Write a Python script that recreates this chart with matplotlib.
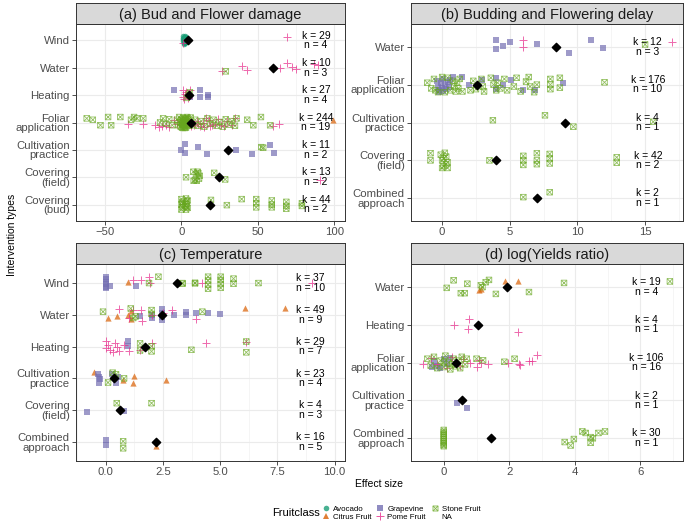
import matplotlib
matplotlib.use("Agg")
import matplotlib.pyplot as plt
from matplotlib.path import Path
from matplotlib.lines import Line2D
from matplotlib.ticker import MultipleLocator

plt.rcParams["font.family"] = ["Liberation Sans", "DejaVu Sans"]

# ---------- data: (category index, effect size, vertical jitter) ----------
cats_a = ["Wind", "Water", "Heating", "Foliar\napplication", "Cultivation\npractice",
          "Covering\n(field)", "Covering\n(bud)"]
a_avocado = [(0, 1.0, -0.15), (0, 1.5, -0.12), (0, 2.0, -0.1), (0, 2.5, -0.08), (0, 1.2, -0.05),
             (0, 1.8, -0.03), (0, 2.6, 0.0), (0, 3.0, 0.02), (0, 1.4, 0.04), (0, 2.2, 0.06),
             (0, 2.8, -0.14), (0, 1.6, 0.08), (0, 2.4, 0.1), (0, 3.2, -0.06), (0, 0.8, -0.1),
             (0, 1.9, 0.12), (0, 2.1, -0.17), (0, 2.9, 0.05), (0, 1.1, 0.02), (0, 2.3, -0.01)]
a_citrus = [(3, 99.4, -0.1)]
a_grape = [(2, -5.2, -0.18), (2, 11.9, -0.18), (2, 11.9, 0.07), (2, 17.1, -0.02), (2, 17.1, 0.05),
           (2, 5.6, 0.08),
           (4, -0.2, 0.0), (4, 2.6, -0.2), (4, 2.6, 0.11), (4, 11.0, -0.1), (4, 16.4, 0.15),
           (4, 35.5, 0.0), (4, 46.3, 0.15), (4, 58.2, -0.16), (4, 60.4, 0.12)]
a_pome = [(0, 1.2, 0.1), (0, 69.0, -0.11),
          (1, 26.5, 0.13), (1, 39.4, -0.07), (1, 43.0, 0.08), (1, 64.7, 0.0), (1, 69.0, -0.17),
          (1, 72.3, -0.03), (1, 75.0, 0.03), (1, 86.5, -0.13), (1, 89.6, -0.1),
          (2, 0.9, -0.2), (2, 0.9, 0.05), (2, 5.6, -0.2), (2, 2.0, -0.05), (2, 4.0, 0.1),
          (2, 1.5, 0.15), (2, 3.0, -0.12),
          (3, -35, 0.05), (3, -25, 0.05), (3, -17, 0.1), (3, -15, 0.15), (3, -13, 0.12),
          (3, -10, 0.08), (3, -8, 0.15), (3, -5, -0.1), (3, -3, 0.05), (3, 8, 0.1), (3, 10, -0.05),
          (3, 12, 0.12), (3, 14, 0.0), (3, 15, 0.15), (3, 18, -0.08), (3, 20, 0.1), (3, 22, 0.05),
          (3, 24, -0.12), (3, 26, 0.08), (3, 28, 0.13), (3, 30, -0.05), (3, 33, 0.1),
          (3, 35, -0.15), (3, 60, 0.12), (3, 64, 0.05), (3, 6, 0.14), (3, 4, -0.12),
          (3, 16, -0.15), (3, 19, 0.14), (3, 11, 0.04),
          (5, 90.5, 0.1)]
a_stone = [(1, 29.0, 0.13),
           (2, 4.7, -0.02), (2, 3.5, 0.1), (2, 5.5, -0.1),
           (3, -62, -0.15), (3, -58, -0.1), (3, -53, 0.1), (3, -48, -0.2), (3, -46, 0.1),
           (3, -40, -0.2), (3, -33, -0.1), (3, -31, -0.2), (3, -29, -0.15), (3, -25, -0.15),
           (3, -1.5, -0.2), (3, -0.5, 0.15), (3, 0, -0.1), (3, 0.5, 0.05), (3, 1, -0.18),
           (3, 1, 0.2), (3, 1.5, 0.1), (3, 2, -0.05), (3, 2, 0.15), (3, 2.5, -0.15), (3, 3, 0.0),
           (3, 3, 0.18), (3, 3.5, -0.2), (3, 4, 0.08), (3, 4.5, -0.1), (3, 5, 0.12),
           (3, 0.2, -0.02), (3, 0.8, 0.1), (3, 1.2, -0.08), (3, 1.8, 0.03), (3, 2.2, 0.2),
           (3, 2.8, -0.12), (3, 3.2, 0.1), (3, 4.2, -0.17), (3, 0.3, 0.18), (3, 1.6, -0.14),
           (3, -1, 0.0), (3, -2, 0.1), (3, -3, -0.1), (3, -6, 0.1), (3, -8, -0.12),
           (3, -10, 0.05), (3, -12, -0.15), (3, -14, 0.0), (3, 6, -0.18), (3, 7, 0.1),
           (3, 9, -0.1), (3, 11, 0.12), (3, 13, -0.05), (3, 15, 0.15), (3, 17, -0.15),
           (3, 19, 0.05), (3, 21, -0.1), (3, 23, 0.12), (3, 25, -0.02), (3, 27, 0.15),
           (3, 29, -0.12), (3, 31, 0.08), (3, 33, -0.05), (3, 35, 0.12), (3, 36, -0.15),
           (3, 43, -0.1), (3, 47, 0.1), (3, 52, -0.2), (3, 58, 0.1),
           (4, 52.2, -0.1), (4, 53.5, -0.08),
           (5, 3.0, 0.0), (5, 7.8, -0.2), (5, 8.9, 0.1), (5, 9.5, -0.12), (5, 11.0, -0.15),
           (5, 11.5, 0.05), (5, 8.0, 0.13), (5, 10.0, 0.13), (5, 12.0, -0.05), (5, 21.4, -0.16),
           (5, 28.6, 0.08), (5, 10.5, -0.2),
           (6, 0.0, -0.2), (6, 0.5, -0.1), (6, 0.0, 0.0), (6, 0.5, 0.1), (6, 0.0, 0.18),
           (6, 3.0, -0.22), (6, 3.5, -0.12), (6, 3.0, -0.02), (6, 3.5, 0.08), (6, 3.0, 0.18),
           (6, 4.0, 0.12), (6, 2.5, 0.05), (6, 1.0, -0.05), (6, 4.0, -0.15),
           (6, 19.3, -0.17), (6, 29.7, 0.02), (6, 39.4, -0.2), (6, 48.9, -0.2), (6, 48.9, -0.05),
           (6, 48.9, 0.1), (6, 59.1, -0.15), (6, 59.1, 0.0), (6, 59.1, 0.1), (6, 68.6, -0.1),
           (6, 68.6, 0.05), (6, 68.6, 0.15), (6, 78.8, -0.05), (6, 78.8, 0.05)]
mean_a = [4.1, 59.7, 5.0, 6.1, 30.5, 24.7, 18.4]
k_a = [29, 10, 27, 244, 11, 13, 44]
n_a = [4, 3, 4, 19, 2, 2, 2]

cats_b = ["Water", "Foliar\napplication", "Cultivation\npractice", "Covering\n(field)",
          "Combined\napproach"]
b_grape = [(0, 4.0, -0.18), (0, 4.0, 0.07), (0, 4.5, -0.02), (0, 5.0, -0.13), (0, 7.0, -0.06),
           (0, 9.4, 0.16), (0, 11.0, -0.17), (0, 11.9, 0.04),
           (1, -0.4, -0.1), (1, -0.3, 0.05), (1, -0.2, 0.15), (1, -0.1, -0.05), (1, 0.0, 0.1),
           (1, 0.1, -0.15), (1, 0.2, 0.0), (1, 0.3, 0.12), (1, 0.4, -0.08), (1, 0.5, 0.06),
           (1, 0.6, -0.12), (1, -0.2, 0.2), (1, 0.1, 0.18), (1, 0.8, -0.2),
           (1, 1.5, -0.2), (1, 2.0, 0.0), (1, 2.95, -0.12), (1, 4.0, -0.18), (1, 4.0, 0.12),
           (1, 4.5, 0.0), (1, 5.1, -0.12), (1, 6.0, 0.15), (1, 6.9, 0.15), (1, 8.9, -0.03)]
b_pome = [(0, 6.0, -0.19), (0, 6.0, 0.0), (0, 17.0, -0.13)]
b_stone = [(0, 15.0, -0.06),
           (1, -1.1, -0.05), (1, -0.8, 0.1), (1, -0.6, -0.15), (1, -0.5, 0.15), (1, -0.3, 0.2),
           (1, 0.0, -0.2), (1, 0.2, 0.2), (1, 0.4, -0.18), (1, 0.6, 0.15), (1, 0.8, -0.1),
           (1, 0.9, 0.05), (1, 1.0, 0.18), (1, 1.1, -0.05), (1, 1.2, 0.1), (1, 1.5, 0.18),
           (1, 1.3, -0.15), (1, 2.1, 0.15), (1, 2.3, -0.1), (1, 2.5, 0.12), (1, 2.9, -0.15),
           (1, 3.0, 0.05), (1, 3.1, 0.18), (1, 3.6, -0.18), (1, 3.8, 0.0), (1, 4.0, 0.15),
           (1, 4.1, -0.05), (1, 4.3, 0.1), (1, 4.6, -0.15), (1, 4.8, 0.15), (1, 5.3, 0.05),
           (1, 5.5, -0.18), (1, 5.8, 0.18), (1, 6.2, -0.08), (1, 6.5, 0.05), (1, 6.8, 0.2),
           (1, 6.4, -0.2), (1, 7.0, 0.0), (1, 8.0, -0.15), (1, 8.0, 0.0), (1, 8.0, 0.12),
           (1, 8.7, -0.18), (1, 8.7, 0.08), (1, 12.0, -0.06),
           (2, 3.75, -0.06), (2, 7.6, -0.19), (2, 9.7, 0.11), (2, 15.6, -0.02),
           (3, -0.86, -0.19), (3, -0.86, 0.0), (3, -0.1, -0.15), (3, 0.0, 0.0), (3, 0.1, 0.15),
           (3, 0.2, -0.2), (3, 0.3, 0.1), (3, 0.4, 0.2), (3, 0.1, -0.05), (3, 0.3, -0.1),
           (3, 0.0, 0.2), (3, 0.4, 0.05), (3, 3.5, 0.0), (3, 6.0, -0.12), (3, 6.0, 0.0),
           (3, 6.0, 0.12), (3, 7.0, -0.19), (3, 7.0, 0.0), (3, 7.0, 0.1), (3, 7.95, -0.17),
           (3, 7.95, -0.05), (3, 7.95, 0.08), (3, 12.9, -0.08), (3, 12.9, 0.06),
           (4, 6.0, -0.03), (4, 7.95, -0.16)]
mean_b = [8.4, 2.6, 9.1, 4.0, 7.0]
k_b = [12, 176, 4, 42, 2]
n_b = [3, 10, 1, 2, 1]

cats_c = ["Wind", "Water", "Heating", "Cultivation\npractice", "Covering\n(field)",
          "Combined\napproach"]
c_citrus = [(0, 0.99, -0.04),
            (1, 0.1, 0.1), (1, 0.48, 0.03), (1, 0.95, 0.0), (1, 1.09, -0.12), (1, 1.09, 0.14),
            (1, 6.08, -0.2), (1, 7.82, -0.2),
            (3, -0.51, -0.19), (3, 1.24, -0.08), (3, 1.2, 0.15), (3, 2.62, 0.04), (3, 0.77, 0.04),
            (5, 2.18, 0.13)]
c_grape = [(0, 0.0, -0.2), (0, 0.0, -0.12), (0, 0.0, -0.04), (0, 0.0, 0.04), (0, 0.0, 0.12),
           (0, 0.0, 0.17), (0, 0.19, 0.08), (0, 1.31, 0.1),
           (1, 1.5, 0.05), (1, 2.0, 0.0), (1, 2.0, 0.1), (1, 2.47, -0.17), (1, 2.47, -0.05),
           (1, 2.47, 0.06), (1, 2.47, 0.15), (1, 2.98, 0.0), (1, 3.49, -0.1), (1, 3.49, 0.0),
           (1, 3.96, -0.06), (1, 4.47, -0.06), (1, 4.99, -0.03),
           (2, 0.98, -0.17), (2, 0.98, -0.02),
           (3, -0.36, -0.14), (3, -0.3, -0.03), (3, -0.3, 0.15), (3, -0.25, 0.02), (3, 0.29, -0.14),
           (3, 0.44, 0.13), (3, 0.55, -0.03),
           (4, -0.8, 0.06), (4, 0.8, 0.02),
           (5, 0.0, -0.06), (5, 0.0, 0.1)]
c_pome = [(0, 1.19, -0.11), (0, 1.53, -0.09), (0, 1.89, -0.18), (0, 1.95, -0.01), (0, 4.19, 0.01),
          (0, 9.0, 0.01),
          (1, 0.58, -0.18), (1, 1.2, -0.16), (1, 1.53, -0.16), (1, 1.6, 0.18), (1, 2.0, 0.0),
          (1, 2.5, -0.05), (1, 2.9, -0.14), (1, 3.93, 0.14), (1, 1.0, 0.1),
          (2, 0.0, -0.18), (2, 0.1, -0.05), (2, 0.2, 0.1), (2, 0.0, 0.05), (2, 0.4, -0.12),
          (2, 0.5, 0.0), (2, 0.6, 0.15), (2, 0.8, -0.05), (2, 0.3, 0.18), (2, 1.0, 0.15),
          (2, 1.5, 0.1), (2, 2.0, -0.12), (2, 4.37, -0.11), (2, 6.14, -0.16)]
c_stone = [(0, 1.89, 0.0), (0, 2.3, -0.2), (0, 3.35, 0.0), (0, 3.35, 0.02), (0, 3.9, -0.01),
           (0, 3.9, 0.01), (0, 4.47, -0.2), (0, 4.47, -0.08), (0, 4.47, 0.05), (0, 4.47, 0.18),
           (0, 5.02, -0.2), (0, 5.02, -0.1), (0, 5.02, 0.03), (0, 5.02, 0.15), (0, 5.58, -0.14),
           (0, 5.58, 0.02), (0, 6.67, 0.0),
           (1, -0.12, -0.1), (1, 1.09, -0.2), (1, 1.2, 0.1), (1, 1.3, 0.05), (1, 2.0, -0.15),
           (1, 2.0, -0.03), (1, 4.22, -0.1),
           (2, 1.5, -0.1), (2, 1.5, 0.12), (2, 2.0, -0.01), (2, 2.0, 0.15), (2, 3.74, 0.1),
           (2, 6.14, -0.16), (2, 6.14, 0.18),
           (3, 0.1, 0.13), (3, 0.3, -0.18), (3, 0.8, 0.0), (3, 0.45, -0.13),
           (4, 0.48, -0.22), (4, 2.0, -0.22),
           (5, 0.76, -0.02), (5, 0.76, 0.2)]
mean_c = [3.1, 2.45, 1.72, 0.36, 0.61, 2.18]
k_c = [37, 49, 29, 23, 4, 16]
n_c = [10, 9, 7, 4, 3, 5]

cats_d = ["Water", "Heating", "Foliar\napplication", "Cultivation\npractice",
          "Combined\napproach"]
d_citrus = [(0, 1.08, 0.08), (0, 1.13, 0.06), (0, 1.86, -0.15), (0, 2.27, -0.15)]
d_grape = [(2, -0.3, -0.05), (2, -0.2, 0.1), (2, -0.1, 0.15), (2, 0.0, -0.1), (2, 0.1, 0.05),
           (2, -0.35, 0.12), (2, 0.2, -0.12),
           (3, 0.4, 0.08), (3, 0.7, 0.19)]
d_pome = [(1, 0.3, 0.02), (1, 0.77, -0.16), (1, 0.75, 0.12), (1, 2.25, 0.19),
          (2, -0.63, 0.03), (2, -0.4, -0.12), (2, -0.2, 0.05), (2, 0.1, 0.15), (2, 0.25, -0.15),
          (2, 0.5, 0.1), (2, 0.8, 0.0), (2, 1.08, -0.06), (2, 1.15, 0.02), (2, 1.35, 0.03),
          (2, 1.0, 0.12), (2, 1.95, 0.0), (2, 2.3, 0.03), (2, 2.33, 0.07), (2, 2.6, -0.04),
          (2, 2.68, -0.04), (2, 2.86, -0.19), (2, 0.6, -0.1)]
d_stone = [(0, 0.09, 0.03), (0, 0.3, -0.17), (0, 0.52, 0.17), (0, 0.64, 0.17), (0, 0.72, -0.08),
           (0, 1.13, -0.04), (0, 1.18, 0.01), (0, 1.28, -0.12), (0, 1.38, -0.18), (0, 1.59, 0.19),
           (0, 2.6, 0.14), (0, 3.67, -0.1), (0, 6.9, -0.14),
           (2, -0.5, -0.1), (2, -0.4, 0.08), (2, -0.3, -0.15), (2, -0.2, 0.15), (2, -0.1, -0.05),
           (2, 0.0, 0.12), (2, 0.05, -0.18), (2, 0.15, 0.0), (2, 0.2, 0.18), (2, 0.3, -0.1),
           (2, 0.35, 0.1), (2, 0.45, -0.05), (2, 0.5, 0.15), (2, 0.55, -0.15), (2, 0.65, 0.05),
           (2, 0.7, -0.1), (2, 0.0, 0.0), (2, 0.25, 0.05), (2, 1.0, -0.1), (2, 1.2, -0.06),
           (2, 1.85, -0.02), (2, 2.16, -0.1),
           (4, 0.0, -0.22), (4, 0.0, -0.17), (4, 0.0, -0.12), (4, 0.0, -0.07), (4, 0.0, -0.02),
           (4, 0.0, 0.03), (4, 0.0, 0.08), (4, 0.0, 0.13), (4, 0.0, 0.18), (4, 0.0, 0.21),
           (4, 3.69, 0.1), (4, 3.87, 0.19), (4, 3.97, 0.02), (4, 4.23, -0.18), (4, 4.33, -0.14),
           (4, 4.48, -0.03), (4, 4.48, 0.12), (4, 4.55, 0.0), (4, 4.72, -0.14), (4, 4.92, -0.18)]
mean_d = [1.94, 1.03, 0.37, 0.55, 1.43]
k_d = [19, 4, 106, 2, 30]
n_d = [4, 1, 16, 1, 1]

# ---------- styles ----------
box_x = Path([(-1, -1), (1, -1), (1, 1), (-1, 1), (-1, -1), (-1, -1), (1, 1), (-1, 1), (1, -1)],
             [Path.MOVETO, Path.LINETO, Path.LINETO, Path.LINETO, Path.CLOSEPOLY,
              Path.MOVETO, Path.LINETO, Path.MOVETO, Path.LINETO])
style = {
    "Avocado": dict(marker="o", color="#1B9E77", s=16, filled=True),
    "Citrus Fruit": dict(marker="^", color="#D95F02", s=20, filled=True),
    "Grapevine": dict(marker="s", color="#7570B3", s=14, filled=True),
    "Pome Fruit": dict(marker="+", color="#E7298A", s=36, filled=True),
    "Stone Fruit": dict(marker=box_x, color="#66A61E", s=16, filled=False),
}


def scatter_group(ax, pts, name):
    if not pts:
        return
    st = style[name]
    xs = [p[1] for p in pts]
    ys = [p[0] + p[2] for p in pts]
    if st["filled"]:
        ax.scatter(xs, ys, marker=st["marker"], s=st["s"], c=st["color"], alpha=0.7,
                   linewidths=0.7 if st["marker"] == "+" else 0, zorder=3)
    else:
        ax.scatter(xs, ys, marker=st["marker"], s=st["s"], facecolors="none",
                   edgecolors=st["color"], alpha=0.7, linewidths=0.6, zorder=3)


def panel(rect, title, cats, groups, means, ks, ns, xlim, major, minor, lab_x):
    fig = plt.gcf()
    ax = fig.add_axes(rect)
    ax.set_xlim(*xlim)
    ax.set_ylim(len(cats) - 1 + 0.6, -0.6)
    ax.xaxis.set_major_locator(MultipleLocator(major))
    ax.xaxis.set_minor_locator(MultipleLocator(minor))
    ax.set_yticks(range(len(cats)))
    ax.set_yticklabels(cats, linespacing=0.95)
    ax.grid(True, which="major", color="#EBEBEB", lw=0.8, zorder=0)
    ax.grid(True, which="minor", axis="x", color="#F2F2F2", lw=0.5, zorder=0)
    ax.set_axisbelow(True)
    ax.tick_params(which="major", length=3, width=0.6, color="#333333", labelsize=8.2,
                   labelcolor="#4D4D4D", pad=1.5)
    ax.tick_params(which="minor", length=0)
    for sp in ax.spines.values():
        sp.set_color("#333333")
        sp.set_linewidth(0.7)
    for name, pts in groups:
        scatter_group(ax, pts, name)
    ax.scatter(means, range(len(cats)), marker="D", s=18, c="black", zorder=5)
    for i, (k, n) in enumerate(zip(ks, ns)):
        ax.text(lab_x, i, f"k = {k}\nn = {n}", ha="center", va="center", fontsize=7.5,
                linespacing=0.95, zorder=6)
    # facet strip
    sh = 21 / 528
    sax = fig.add_axes([rect[0], rect[1] + rect[3], rect[2], sh])
    sax.set_facecolor("#D9D9D9")
    sax.set_xticks([])
    sax.set_yticks([])
    for sp in sax.spines.values():
        sp.set_color("#333333")
        sp.set_linewidth(0.7)
    sax.text(0.5, 0.45, title, ha="center", va="center", fontsize=10.5, color="#1A1A1A",
             transform=sax.transAxes)
    return ax


fig = plt.figure(figsize=(6.85, 5.28), dpi=100)
W, H = 685, 528


def r(x0, y0, x1, y1):
    return [x0 / W, 1 - y1 / H, (x1 - x0) / W, (y1 - y0) / H]


panel(r(76, 24, 345, 221), "(a) Bud and Flower damage", cats_a,
      [("Avocado", a_avocado), ("Citrus Fruit", a_citrus), ("Grapevine", a_grape),
       ("Pome Fruit", a_pome), ("Stone Fruit", a_stone)],
      mean_a, k_a, n_a, (-69, 107), 50, 25, 88)
panel(r(411, 24, 683, 221), "(b) Budding and Flowering delay", cats_b,
      [("Grapevine", b_grape), ("Pome Fruit", b_pome), ("Stone Fruit", b_stone)],
      mean_b, k_b, n_b, (-2.3, 17.8), 5, 2.5, 15.2)
panel(r(76, 264, 345, 461), "(c) Temperature", cats_c,
      [("Citrus Fruit", c_citrus), ("Grapevine", c_grape), ("Pome Fruit", c_pome),
       ("Stone Fruit", c_stone)],
      mean_c, k_c, n_c, (-1.3, 10.45), 2.5, 1.25, 8.95)
panel(r(411, 264, 683, 461), "(d) log(Yields ratio)", cats_d,
      [("Citrus Fruit", d_citrus), ("Grapevine", d_grape), ("Pome Fruit", d_pome),
       ("Stone Fruit", d_stone)],
      mean_d, k_d, n_d, (-1.0, 7.3), 2, 1, 6.19)

fig.text(12 / W, 0.555, "Intervention types", rotation=90, ha="center", va="center",
         fontsize=7.5, color="black")
fig.text(379 / W, 1 - 484 / H, "Effect size", ha="center", va="center", fontsize=7.5)

# legend
handles = []
labels = ["Avocado", "Citrus Fruit", "Grapevine", "Pome Fruit", "Stone Fruit", "NA"]
for lab in labels:
    if lab == "NA":
        handles.append(Line2D([], [], linestyle="none", marker=None))
        continue
    st = style[lab]
    if st["filled"]:
        handles.append(Line2D([], [], linestyle="none", marker=st["marker"], color=st["color"],
                              markersize=4 if st["marker"] != "+" else 5.5, alpha=0.8,
                              markeredgewidth=0.7 if st["marker"] == "+" else 0))
    else:
        handles.append(Line2D([], [], linestyle="none", marker=st["marker"],
                              markerfacecolor="none", markeredgecolor=st["color"],
                              markersize=3.6, alpha=0.8, markeredgewidth=0.6))
fig.text(296 / W, 1 - 513 / H, "Fruitclass", ha="center", va="center", fontsize=8)
fig.legend(handles, labels, ncol=3, loc="center left", bbox_to_anchor=(318 / W, 1 - 513 / H),
           frameon=False, fontsize=5.7, handlelength=1.0, handletextpad=0.4,
           columnspacing=0.6, labelspacing=0.1, borderpad=0)

fig.savefig("out.png", dpi=100)
